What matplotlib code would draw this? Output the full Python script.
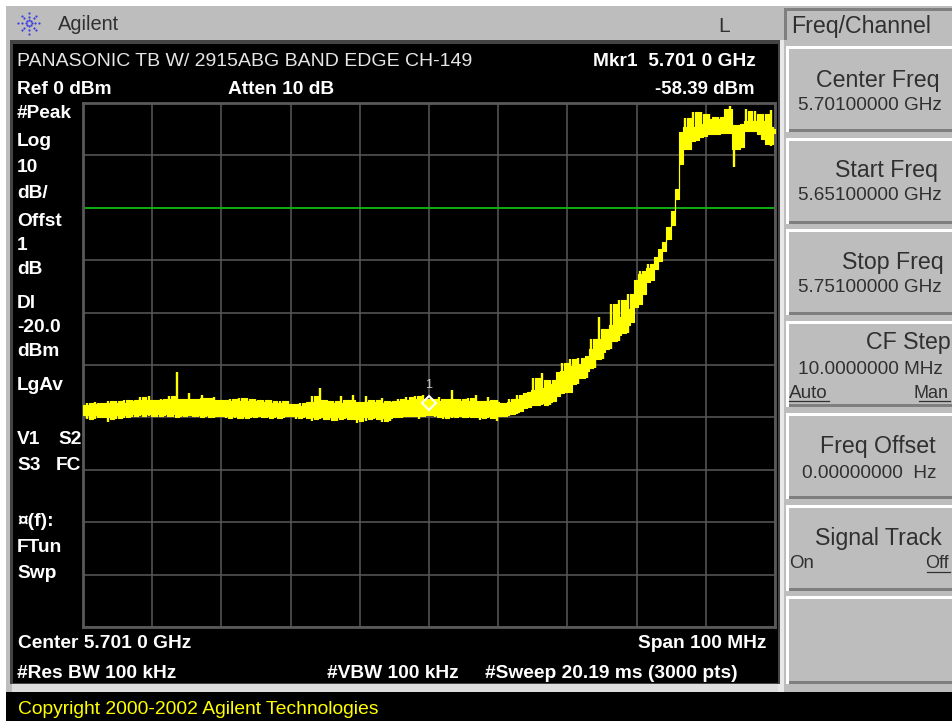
import numpy as np
import matplotlib
matplotlib.use('Agg')
import matplotlib.pyplot as plt
from matplotlib.patches import Rectangle

# trace envelope, dBm, 17 columns per division
trace_hi = [
    -57.6,-57.2,-57.6,-57.0,-57.4,-57.2,-56.8,-57.4,-56.9,-57.3,-56.7,-57.2,-56.6,-56.9,-56.2,-56.6,-56.0,
    -56.6,-56.9,-56.4,-56.6,-56.0,-56.4,-51.4,-56.4,-56.6,-55.3,-56.4,-56.7,-55.8,-56.3,-56.8,-56.2,-56.7,
    -56.6,-57.0,-56.5,-56.9,-56.3,-56.8,-56.3,-56.9,-56.4,-57.1,-56.6,-57.2,-56.7,-57.3,-56.8,-57.4,-56.9,
    -57.4,-58.0,-57.2,-57.9,-57.1,-56.0,-57.3,-54.3,-56.6,-57.4,-56.9,-57.3,-56.0,-57.2,-56.6,-55.7,-57.0,
    -57.0,-55.9,-57.1,-56.6,-57.2,-56.3,-57.3,-56.8,-57.0,-56.4,-56.9,-56.2,-56.7,-56.0,-56.5,-55.8,-56.4,
    -56.4,-57.0,-56.2,-56.9,-56.4,-54.7,-56.8,-56.4,-57.0,-56.3,-56.9,-55.8,-57.2,-56.8,-56.2,-57.0,-56.6,
    -57.2,-57.4,-56.4,-57.0,-55.8,-56.4,-55.4,-55.1,-52.4,-54.7,-51.6,-54.3,-52.8,-53.7,-51.4,-49.7,-51.2,
    -48.9,-50.1,-48.6,-49.9,-48.2,-45.1,-47.0,-40.9,-45.1,-43.2,-38.4,-42.3,-37.5,-40.9,-36.5,-39.4,-33.7,
    -32.1,-32.7,-30.8,-31.4,-29.4,-27.9,-26.6,-23.7,-20.7,-16.4,-5.5,-2.9,-4.6,-1.7,-4.6,-1.7,-4.0,
    -2.1,-3.1,-2.7,-3.4,-1.1,-0.6,-4.6,-4.2,-4.0,-1.1,-3.4,-1.5,-3.4,-2.1,-4.6,-1.3,-5.0,
]
trace_lo = [
    -59.6,-60.3,-59.6,-60.4,-59.5,-60.0,-60.9,-59.6,-60.3,-59.5,-60.1,-59.3,-60.0,-59.2,-59.8,-59.3,-59.7,
    -59.4,-59.9,-59.3,-59.7,-59.4,-60.0,-59.4,-59.9,-59.5,-59.8,-59.6,-60.0,-59.5,-59.9,-59.6,-60.1,-59.7,
    -59.6,-60.2,-59.7,-60.1,-59.6,-60.3,-59.8,-60.2,-59.7,-60.0,-59.6,-60.1,-59.7,-60.2,-59.8,-60.2,-59.7,
    -59.8,-60.4,-59.8,-60.2,-59.8,-60.6,-59.9,-60.3,-59.8,-60.5,-59.9,-60.7,-60.0,-60.3,-59.9,-60.4,-61.0,
    -60.0,-60.6,-60.0,-60.4,-59.9,-60.8,-60.1,-60.6,-60.0,-59.7,-60.2,-59.8,-59.5,-59.8,-60.3,-59.7,-59.4,
    -59.5,-60.0,-59.6,-60.3,-59.8,-60.2,-59.7,-60.0,-59.8,-60.2,-59.7,-60.0,-60.5,-59.8,-60.1,-59.8,-60.6,
    -59.8,-59.3,-59.7,-58.9,-59.3,-58.7,-58.3,-58.1,-57.6,-57.2,-57.6,-57.0,-57.6,-56.8,-56.0,-55.4,-55.2,
    -55.1,-52.4,-53.7,-51.2,-52.4,-48.9,-50.5,-47.6,-48.9,-45.5,-47.0,-44.2,-45.5,-42.4,-43.8,-41.7,-39.0,
    -38.4,-36.5,-34.2,-33.7,-31.7,-30.2,-28.3,-26.0,-23.3,-18.4,-11.7,-8.8,-8.8,-7.3,-7.1,-6.5,-6.3,
    -5.9,-5.9,-5.7,-5.9,-5.5,-5.7,-12.2,-8.8,-8.4,-5.2,-5.4,-5.4,-5.9,-6.9,-7.8,-8.2,-5.7,
]
start_ghz = 5.651
stop_ghz = 5.751
ref_dbm = 0
db_div = 10
dl_dbm = -20.0
mkr_ghz = 5.701
mkr_pos_dbm = -57.3

side_labels = ['#Peak','Log','10','dB/','Offst','1','dB','Dl','-20.0','dBm','LgAv','\u00a4(f):','FTun','Swp']
side_y = [113,140,166,193,221,245,269,302,326,350,385,520,547,573]

GRAY = '#bdbdbd'
GRID = '#595959'
YEL = '#ffff00'

plt.rcParams['font.family'] = ['Liberation Sans', 'DejaVu Sans']
fig = plt.figure(figsize=(9.53,7.23), dpi=100, facecolor='white')
bg = fig.add_axes([0,0,1,1])
bg.set_xlim(0,953); bg.set_ylim(723,0); bg.axis('off')

def box(x0,y0,x1,y1,c,z=1):
    bg.add_patch(Rectangle((x0,y0),x1-x0,y1-y0,facecolor=c,edgecolor='none',zorder=z))

def softkey(y0,y1):
    box(786,y0,953,y1,'white',2)
    box(789,y0+3,953,y1,'#7f7f7f',2)
    box(789,y0+3,953,y1-3,GRAY,2)

def txt(x,y,s,size=12.4,c='#303030',ha='left',w='normal'):
    bg.text(x,y+1,s,fontsize=size,color=c,ha=ha,va='center',fontweight=w,zorder=5)

box(6,6,953,721,GRAY)
box(6,692,953,721,'black',2)
box(12,684,780,692,'#dddddd',2)
box(778,40,784,692,'#e8e8e8',2)
box(10,40,780,684,'#444444',2)
box(13,44,778,683,'black',2)

# softkey column
box(784,8,953,40,'#7f7f7f',2)
box(787,11,953,40,GRAY,2)
for y0,y1 in [(46,132),(138,224),(229,315),(321,407),(413,499),(505,591),(596,684)]:
    softkey(y0,y1)

# Agilent logo
for a in np.arange(0,360,45):
    for r in [3,6.5,10.5]:
        bg.scatter(29+r*np.cos(np.radians(a)),23+r*np.sin(np.radians(a)),s=2.5,color='#3a3ae0',zorder=3,linewidths=0)
txt(58,24,'Agilent',14.4)
txt(718,26,'L',15)
txt(791,26,'Freq/Channel',16.7)

# softkey text
txt(940,79,'Center Freq',16.7,ha='right')
txt(942,104,'5.70100000 GHz',13.7,ha='right')
txt(938,169,'Start Freq',16.7,ha='right')
txt(942,195,'5.65100000 GHz',13.7,ha='right')
txt(944,262,'Stop Freq',16.7,ha='right')
txt(942,287,'5.75100000 GHz',13.7,ha='right')
txt(866,341,'CF Step',16.7)
txt(798,368,'10.0000000 MHz',13.7)
txt(789,392,'Auto',13.6)
txt(949,392,'Man',13,ha='right')
txt(820,446,'Freq Offset',16.7)
txt(802,472,'0.00000000  Hz',13.7)
txt(815,537,'Signal Track',16.7)
txt(789,563,'On',13.4)
txt(949,563,'Off',13,ha='right')
bg.plot([789,829],[401,401],color='#303030',lw=0.9,zorder=5)
bg.plot([919,950],[401,401],color='#303030',lw=0.9,zorder=5)
bg.plot([927,950],[572,572],color='#303030',lw=0.9,zorder=5)

# screen annotations
W = 'white'
B = 13.8
txt(17,60,'PANASONIC TB W/ 2915ABG BAND EDGE CH-149',14,'#e6e6e6')
txt(17,89,'Ref 0 dBm',B,W,w='bold')
txt(228,89,'Atten 10 dB',B,W,w='bold')
txt(593,60,'Mkr1  5.701 0 GHz',B,W,w='bold')
txt(755,89,'-58.39 dBm',13.4,W,ha='right',w='bold')
for s,y in zip(side_labels,side_y):
    txt(17,y,s,B,W,w='bold')
txt(17,439,'V1',B,W,w='bold'); txt(58,439,'S2',B,W,w='bold')
txt(17,465,'S3',B,W,w='bold'); txt(56,465,'FC',B,W,w='bold')
txt(18,643,'Center 5.701 0 GHz',B,W,w='bold')
txt(767,643,'Span 100 MHz',B,W,ha='right',w='bold')
txt(17,672,'#Res BW 100 kHz',B,W,w='bold')
txt(327,672,'#VBW 100 kHz',B,W,w='bold')
txt(485,672,'#Sweep 20.19 ms (3000 pts)',B,W,w='bold')
txt(18,709,'Copyright 2000-2002 Agilent Technologies',13.9,YEL)

# trace graticule
ax = fig.add_axes([83/953,1-627/723,(775-83)/953,(627-103)/723],zorder=3)
ax.set_facecolor('black')
ax.set_xlim(start_ghz,stop_ghz)
ax.set_ylim(ref_dbm-10*db_div,ref_dbm)
ax.set_xticks(np.linspace(start_ghz,stop_ghz,11))
ax.set_yticks(np.arange(ref_dbm-10*db_div,ref_dbm+1,db_div))
ax.tick_params(length=0,labelbottom=False,labelleft=False)
ax.grid(True,color=GRID,lw=1.1)
ax.set_axisbelow(True)
for s in ax.spines.values():
    s.set_color(GRID); s.set_linewidth(2)
ax.axhline(dl_dbm,color='#00c800',lw=1.1,zorder=2)

hi = np.array(trace_hi)
lo = np.array(trace_lo)
freq = np.linspace(start_ghz,stop_ghz,len(hi))
# solid jagged body: median of each column and its neighbours drops the lone spikes
body_hi = np.median([hi,np.roll(hi,1),np.roll(hi,-1)],axis=0)
body_lo = np.median([lo,np.roll(lo,1),np.roll(lo,-1)],axis=0)
body_hi[0] = hi[0]; body_hi[-1] = hi[-1]; body_lo[0] = lo[0]; body_lo[-1] = lo[-1]
ax.fill_between(freq,body_lo,body_hi,color=YEL,lw=0.8,zorder=3,step='mid')
ax.vlines(freq,lo,hi,color=YEL,lw=1.7,zorder=3)
ax.plot([mkr_ghz],[mkr_pos_dbm],marker='D',ms=7,mfc='none',mec='white',mew=1.5,zorder=4)
ax.text(mkr_ghz,mkr_pos_dbm+3.4,'1',color='#cccccc',fontsize=9,ha='center',va='center',zorder=4)

fig.savefig('out.png',dpi=100)
